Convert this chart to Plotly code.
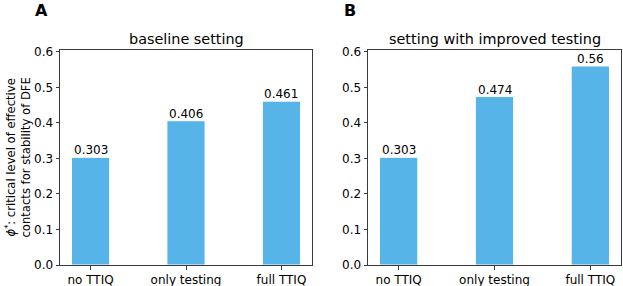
import plotly.graph_objects as go

categories = ["no TTIQ", "only testing", "full TTIQ"]
baseline_values = [0.303, 0.406, 0.461]
improved_values = [0.303, 0.474, 0.56]
y_ticks = [0.0, 0.1, 0.2, 0.3, 0.4, 0.5, 0.6]
titles = ["baseline setting", "setting with improved testing"]
panel_letters = ["A", "B"]

W, H = 623, 286
BAR = "#56B4E9"
AX = "#3a3a3a"
FONT = "DejaVu Sans"

x_pos = list(range(len(categories)))

fig = go.Figure()
annotations = []
for i, vals in enumerate([baseline_values, improved_values]):
    sfx = "" if i == 0 else "2"
    fig.add_trace(go.Bar(
        x=x_pos, y=vals, width=0.4,
        marker=dict(color=BAR, line=dict(color="white", width=1)),
        xaxis="x" + sfx, yaxis="y" + sfx, showlegend=False, hoverinfo="skip",
    ))
    for xp, v in zip(x_pos, vals):
        annotations.append(dict(text=str(v), x=xp, y=v, xref="x" + sfx, yref="y" + sfx,
                                showarrow=False, xanchor="center", yanchor="bottom",
                                yshift=-2, font=dict(family=FONT, size=12, color="black")))

y_dom = [1 - 265 / H, 1 - 50 / H]
x_doms = [[60 / W, 312 / W], [368 / W, 621 / W]]

axis_common = dict(showline=True, linecolor=AX, linewidth=1, mirror=True,
                   ticks="outside", ticklen=3.5, tickwidth=0.8, tickcolor=AX,
                   showgrid=False, zeroline=False, automargin=False,
                   tickfont=dict(family=FONT, size=12, color="black"))

layout = dict(template="none", width=W, height=H, autosize=False,
              margin=dict(l=0, r=0, t=0, b=0, pad=0),
              plot_bgcolor="white", paper_bgcolor="white",
              font=dict(family=FONT, color="black"))

for i in range(2):
    sfx = "" if i == 0 else "2"
    layout["xaxis" + sfx] = dict(domain=x_doms[i], range=[-0.32, 2.32],
                                 tickvals=x_pos, ticktext=categories,
                                 anchor="y" + sfx, **axis_common)
    layout["yaxis" + sfx] = dict(domain=y_dom, range=[0, 0.605],
                                 tickvals=y_ticks,
                                 ticktext=[f"{t:.1f}" for t in y_ticks],
                                 anchor="x" + sfx, **axis_common)

fig.update_layout(**layout)

for i in range(2):
    cx = (x_doms[i][0] + x_doms[i][1]) / 2
    annotations.append(dict(text=titles[i], x=cx, y=1 - 39 / H, xref="paper", yref="paper",
                            showarrow=False, xanchor="center", yanchor="middle",
                            font=dict(family=FONT, size=14.4, color="black")))
letter_x = [41.5, 350]
for i in range(2):
    annotations.append(dict(text="<b>" + panel_letters[i] + "</b>", x=letter_x[i] / W, y=1 - 11 / H,
                            xref="paper", yref="paper", showarrow=False,
                            xanchor="center", yanchor="middle",
                            font=dict(family=FONT, size=16, color="black")))
annotations.append(dict(
    text="<i>ϕ</i><sup>*</sup>: critical level of effective<br>contacts for stability of DFE",
    x=18 / W, y=(y_dom[0] + y_dom[1]) / 2, xref="paper", yref="paper",
    showarrow=False, textangle=-90, xanchor="center", yanchor="middle",
    font=dict(family=FONT, size=11.6, color="black")))
fig.update_layout(annotations=annotations)

fig.write_html("out.html", config={"displayModeBar": False},
               post_script="document.body.style.margin='0';document.body.style.overflow='hidden';")
